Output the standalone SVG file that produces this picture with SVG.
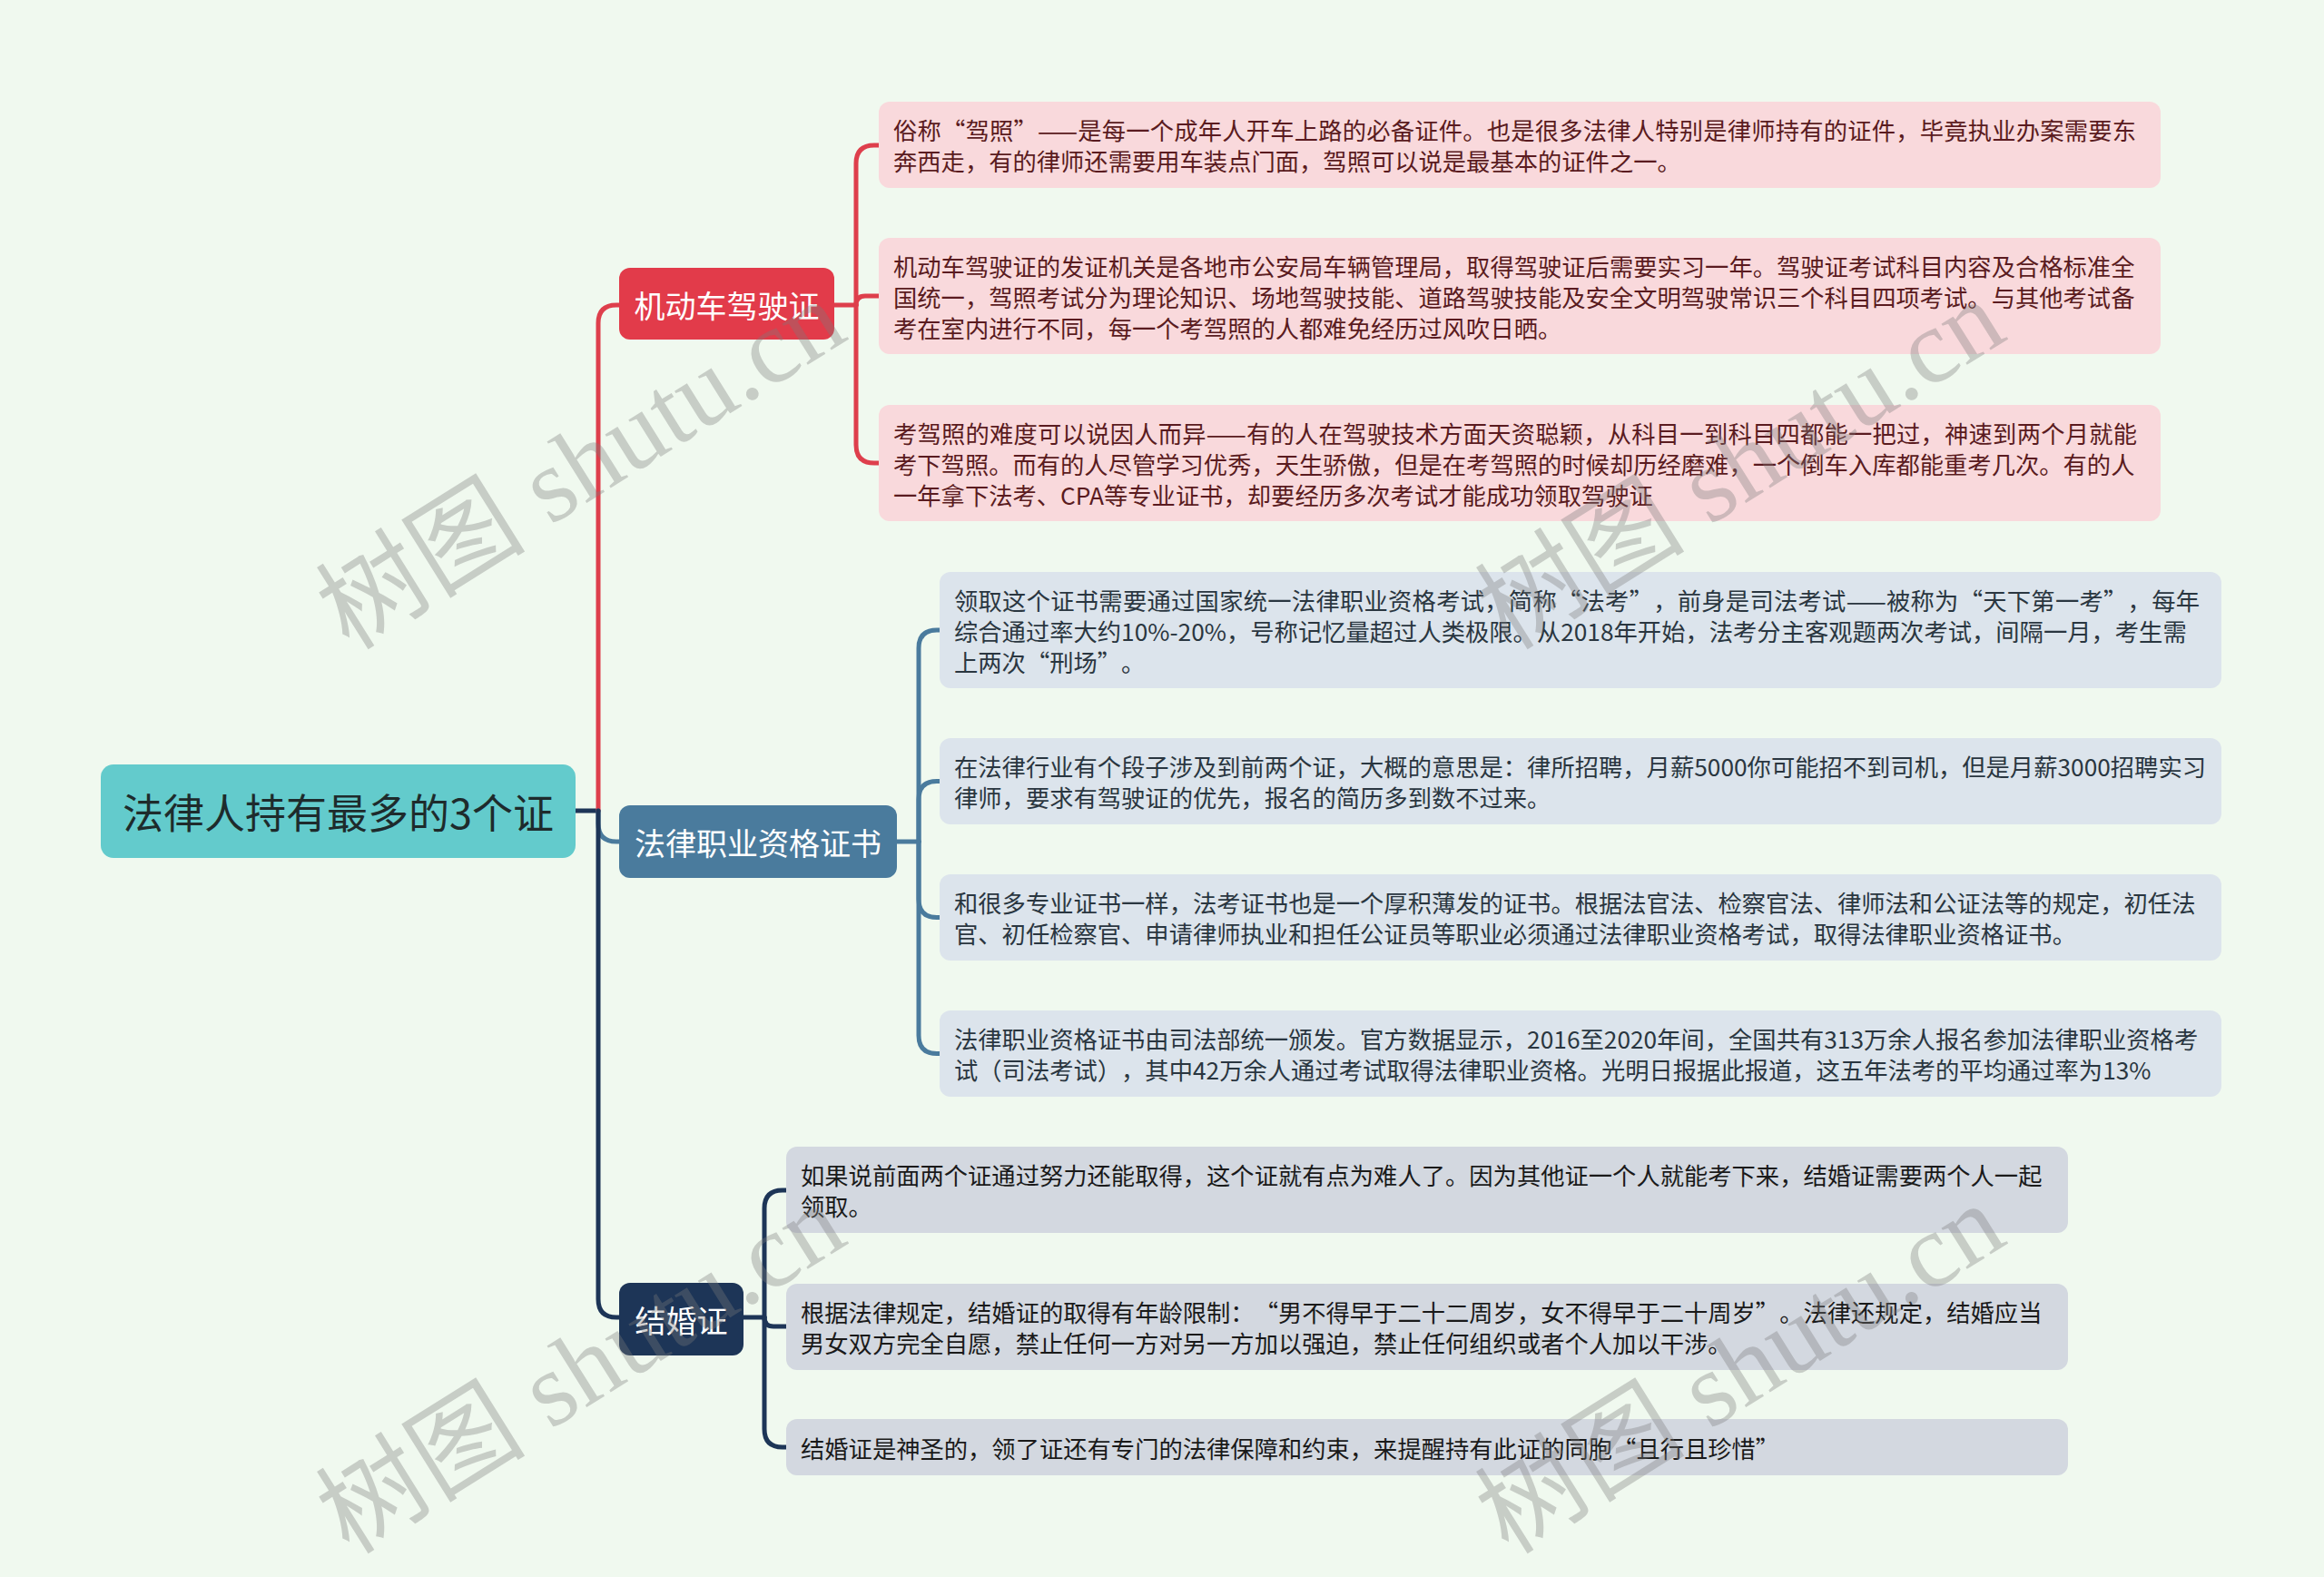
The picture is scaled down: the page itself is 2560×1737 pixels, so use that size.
<svg xmlns="http://www.w3.org/2000/svg" width="2560" height="1737" viewBox="0 0 2560 1737">
<style>
.bg{fill:#F0F9EF}
.lk{fill:none;stroke-width:5;stroke-linecap:round;stroke-linejoin:round}
.red{stroke:#DE3F4C}.steel{stroke:#4A7B9D}.navy{stroke:#1D3557}
.root rect{fill:#63CBCC}
.root text{fill:#1E2B2C;font-size:45px}
.br text{fill:#FFFFFF;font-size:34px}
text{font-family:"Noto Sans CJK SC","Liberation Sans",sans-serif;dominant-baseline:central;text-spacing-trim:space-all;font-feature-settings:"halt" 0,"chws" 0}
.b1 rect{fill:#E23B4A}.b2 rect{fill:#4A7B9D}.b3 rect{fill:#1D3557}
.leaf text{font-size:26.3px}
.g1 rect{fill:#F9D9DC}.g1 text{fill:#5A1B20}
.g2 rect{fill:#DCE4EC}.g2 text{fill:#2A3640}
.g3 rect{fill:#D3D8E0}.g3 text{fill:#1A1A1A}
.wm{font-family:"Liberation Serif","Noto Sans CJK SC",serif;font-size:116px;fill:#7A7A7A;fill-opacity:0.35;text-anchor:middle}
</style>
<rect class="bg" x="0" y="0" width="2560" height="1737"/>

<g id="connectors">
  <path class="lk navy" d="M634,893 H659"/>
  <path class="lk red" d="M659,893 V356 Q659,336 679,336 H682"/>
  <path class="lk steel" d="M659,893 V907 Q659,927 679,927 H682"/>
  <path class="lk navy" d="M659,893 V1431 Q659,1451 679,1451 H682"/>

  <path class="lk red" d="M919,336 H943"/>
  <path class="lk red" d="M943,336 V180 Q943,160 963,160 H968"/>
  <path class="lk red" d="M943,336 Q943,326 953,326 H968"/>
  <path class="lk red" d="M943,336 V490 Q943,510 963,510 H968"/>

  <path class="lk steel" d="M988,927 H1012"/>
  <path class="lk steel" d="M1012,927 V714 Q1012,694 1032,694 H1035"/>
  <path class="lk steel" d="M1012,927 V880.5 Q1012,860.5 1032,860.5 H1035"/>
  <path class="lk steel" d="M1012,927 V990.5 Q1012,1010.5 1032,1010.5 H1035"/>
  <path class="lk steel" d="M1012,927 V1140.5 Q1012,1160.5 1032,1160.5 H1035"/>

  <path class="lk navy" d="M819,1451 H842"/>
  <path class="lk navy" d="M842,1451 V1331 Q842,1311 862,1311 H866"/>
  <path class="lk navy" d="M842,1451 Q842,1461 852,1461 H866"/>
  <path class="lk navy" d="M842,1451 V1574 Q842,1594 862,1594 H866"/>
</g>

<g id="root" class="root">
  <rect x="111" y="842" width="523" height="103" rx="14"/>
  <text x="372.5" y="893.5" text-anchor="middle">法律人持有最多的3个证</text>
</g>

<g id="branch-1" class="br b1">
  <rect x="682" y="295" width="237" height="79" rx="12"/>
  <text x="800.5" y="335" text-anchor="middle">机动车驾驶证</text>
</g>
<g id="branch-2" class="br b2">
  <rect x="682" y="887" width="306" height="80" rx="12"/>
  <text x="835" y="927" text-anchor="middle">法律职业资格证书</text>
</g>
<g id="branch-3" class="br b3">
  <rect x="682" y="1413" width="137" height="80" rx="12"/>
  <text x="750.5" y="1453" text-anchor="middle">结婚证</text>
</g>

<g id="leaf-1-1" class="leaf g1">
  <rect x="968" y="112" width="1412" height="95" rx="12"/>
  <text x="984" y="142.5" textLength="1369" lengthAdjust="spacing">俗称“驾照”——是每一个成年人开车上路的必备证件。也是很多法律人特别是律师持有的证件，毕竟执业办案需要东</text>
  <text x="984" y="176.5">奔西走，有的律师还需要用车装点门面，驾照可以说是最基本的证件之一。</text>
</g>
<g id="leaf-1-2" class="leaf g1">
  <rect x="968" y="262" width="1412" height="128" rx="12"/>
  <text x="984" y="292">机动车驾驶证的发证机关是各地市公安局车辆管理局，取得驾驶证后需要实习一年。驾驶证考试科目内容及合格标准全</text>
  <text x="984" y="326">国统一，驾照考试分为理论知识、场地驾驶技能、道路驾驶技能及安全文明驾驶常识三个科目四项考试。与其他考试备</text>
  <text x="984" y="360">考在室内进行不同，每一个考驾照的人都难免经历过风吹日晒。</text>
</g>
<g id="leaf-1-3" class="leaf g1">
  <rect x="968" y="446" width="1412" height="128" rx="12"/>
  <text x="984" y="476" textLength="1370" lengthAdjust="spacing">考驾照的难度可以说因人而异——有的人在驾驶技术方面天资聪颖，从科目一到科目四都能一把过，神速到两个月就能</text>
  <text x="984" y="510">考下驾照。而有的人尽管学习优秀，天生骄傲，但是在考驾照的时候却历经磨难，一个倒车入库都能重考几次。有的人</text>
  <text x="984" y="544">一年拿下法考、CPA等专业证书，却要经历多次考试才能成功领取驾驶证</text>
</g>

<g id="leaf-2-1" class="leaf g2">
  <rect x="1035" y="630" width="1412" height="128" rx="12"/>
  <text x="1051" y="660" textLength="1372" lengthAdjust="spacing">领取这个证书需要通过国家统一法律职业资格考试，简称“法考”，前身是司法考试——被称为“天下第一考”，每年</text>
  <text x="1051" y="694">综合通过率大约10%-20%，号称记忆量超过人类极限。从2018年开始，法考分主客观题两次考试，间隔一月，考生需</text>
  <text x="1051" y="728">上两次“刑场”。</text>
</g>
<g id="leaf-2-2" class="leaf g2">
  <rect x="1035" y="813" width="1412" height="95" rx="12"/>
  <text x="1051" y="843.5">在法律行业有个段子涉及到前两个证，大概的意思是：律所招聘，月薪5000你可能招不到司机，但是月薪3000招聘实习</text>
  <text x="1051" y="877.5">律师，要求有驾驶证的优先，报名的简历多到数不过来。</text>
</g>
<g id="leaf-2-3" class="leaf g2">
  <rect x="1035" y="963" width="1412" height="95" rx="12"/>
  <text x="1051" y="993.5">和很多专业证书一样，法考证书也是一个厚积薄发的证书。根据法官法、检察官法、律师法和公证法等的规定，初任法</text>
  <text x="1051" y="1027.5">官、初任检察官、申请律师执业和担任公证员等职业必须通过法律职业资格考试，取得法律职业资格证书。</text>
</g>
<g id="leaf-2-4" class="leaf g2">
  <rect x="1035" y="1113" width="1412" height="95" rx="12"/>
  <text x="1051" y="1143.5">法律职业资格证书由司法部统一颁发。官方数据显示，2016至2020年间，全国共有313万余人报名参加法律职业资格考</text>
  <text x="1051" y="1177.5">试（司法考试），其中42万余人通过考试取得法律职业资格。光明日报据此报道，这五年法考的平均通过率为13%</text>
</g>

<g id="leaf-3-1" class="leaf g3">
  <rect x="866" y="1263" width="1412" height="95" rx="12"/>
  <text x="882" y="1293.5">如果说前面两个证通过努力还能取得，这个证就有点为难人了。因为其他证一个人就能考下来，结婚证需要两个人一起</text>
  <text x="882" y="1327.5">领取。</text>
</g>
<g id="leaf-3-2" class="leaf g3">
  <rect x="866" y="1414" width="1412" height="95" rx="12"/>
  <text x="882" y="1444.5">根据法律规定，结婚证的取得有年龄限制：“男不得早于二十二周岁，女不得早于二十周岁”。法律还规定，结婚应当</text>
  <text x="882" y="1478.5">男女双方完全自愿，禁止任何一方对另一方加以强迫，禁止任何组织或者个人加以干涉。</text>
</g>
<g id="leaf-3-3" class="leaf g3">
  <rect x="866" y="1563" width="1412" height="62" rx="12"/>
  <text x="882" y="1594">结婚证是神圣的，领了证还有专门的法律保障和约束，来提醒持有此证的同胞“且行且珍惜”</text>
</g>

<g id="watermarks">
  <text class="wm" transform="translate(640,512) rotate(-32)">树图 shutu.cn</text>
  <text class="wm" transform="translate(1917,512) rotate(-32)">树图 shutu.cn</text>
  <text class="wm" transform="translate(640,1508) rotate(-32)">树图 shutu.cn</text>
  <text class="wm" transform="translate(1917,1508) rotate(-32)">树图 shutu.cn</text>
</g>
</svg>
